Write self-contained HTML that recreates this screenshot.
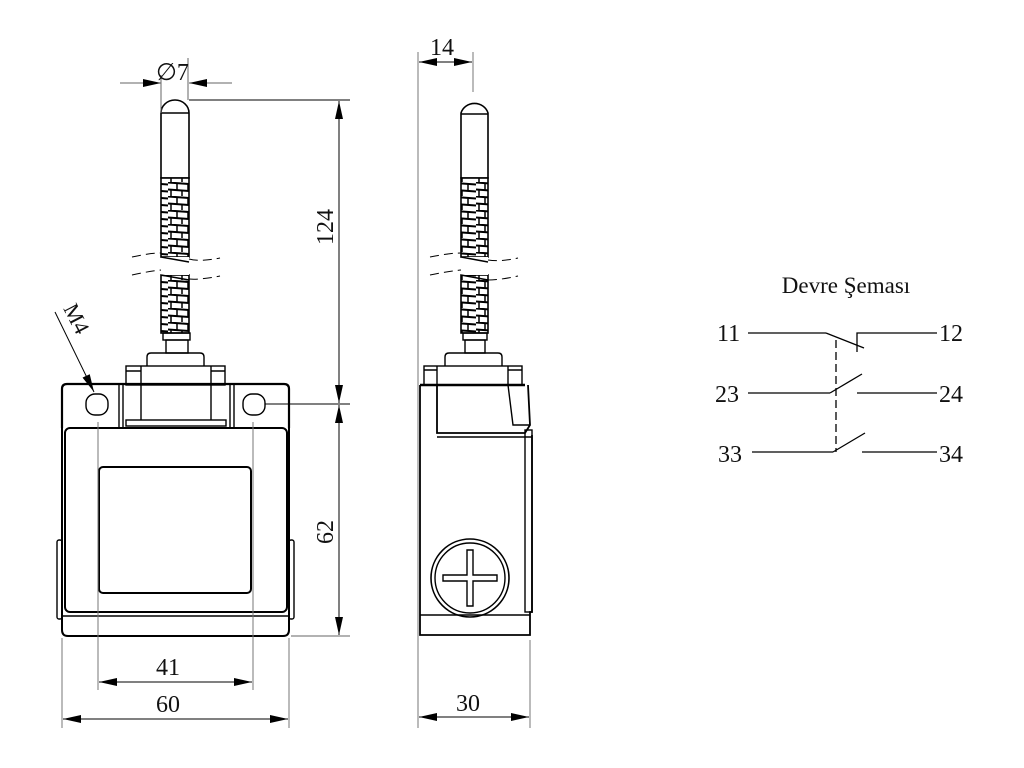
<!DOCTYPE html>
<html><head><meta charset="utf-8"><style>
html,body{margin:0;padding:0;background:#fff;}
svg{display:block;}
</style></head><body>
<svg width="1024" height="768" viewBox="0 0 1024 768" xmlns="http://www.w3.org/2000/svg" font-family="'Liberation Serif', serif">
<defs>
<pattern id="spr" x="0" y="0" width="28" height="14" patternUnits="userSpaceOnUse">
<rect width="28" height="14" fill="#fff"/>
<line x1="0" y1="0.5" x2="28" y2="2.5" stroke="#000" stroke-width="2"/>
<line x1="0" y1="7.5" x2="28" y2="9.5" stroke="#000" stroke-width="2"/>
<line x1="9" y1="1" x2="9" y2="8" stroke="#000" stroke-width="1.5"/>
<line x1="20" y1="1" x2="20" y2="8" stroke="#000" stroke-width="1.5"/>
<line x1="14" y1="8" x2="14" y2="14" stroke="#000" stroke-width="1.5"/>
<line x1="3" y1="8" x2="3" y2="14" stroke="#000" stroke-width="1.5"/>
</pattern>
<marker id="ar" viewBox="0 0 18 8" refX="18" refY="4" markerWidth="18" markerHeight="8" orient="auto" markerUnits="userSpaceOnUse">
<path d="M0,0 L18,4 L0,8 z" fill="#000"/>
</marker>
</defs>

<g fill="none" stroke="#000" stroke-width="1.4">
<path d="M161,113 A14,13 0 0 1 189,113 L189,178 L161,178 Z" stroke-width="1.6"/>
<line x1="161" y1="113" x2="189" y2="113"/>
<rect x="161" y="178" width="28" height="79" fill="url(#spr)" stroke-width="1.6"/>
<rect x="161" y="275" width="28" height="58" fill="url(#spr)" stroke-width="1.6"/>
<rect x="161" y="257" width="28" height="18" fill="#fff" stroke="none"/>
<line x1="161" y1="257" x2="189" y2="262"/>
<line x1="161" y1="275" x2="189" y2="280"/>
<path d="M132,257 Q150,253 161,253 M189,259 Q200,262 220,258 M132,275 Q150,271 161,270 M189,279 Q200,280 220,276" stroke-dasharray="9,5" stroke-width="1"/>
<rect x="163" y="333" width="27" height="7"/>
<rect x="166" y="340" width="22" height="13"/>
<path d="M147,366 L147,357 Q147,353 151,353 L200,353 Q204,353 204,357 L204,366"/>
<rect x="126" y="366" width="99" height="19"/>
<path d="M141,366 L141,420 M211,366 L211,420 M126,371 L141,371 M211,371 L225,371"/>
<path d="M62,428 L62,389 Q62,384 67,384 L284,384 Q289,384 289,389 L289,428" stroke-width="2.2"/>
<line x1="119" y1="385" x2="119" y2="428"/>
<line x1="123" y1="385" x2="123" y2="428"/>
<line x1="230" y1="385" x2="230" y2="428"/>
<line x1="234" y1="385" x2="234" y2="428"/>
<rect x="126" y="420" width="100" height="6"/>
<rect x="86" y="394" width="22" height="21" rx="9"/>
<rect x="243" y="394" width="22" height="21" rx="9"/>
<rect x="65" y="428" width="222" height="184" rx="5" stroke-width="2"/>
<rect x="99" y="467" width="152" height="126" rx="4" stroke-width="2"/>
<path d="M62,428 L62,630 Q62,636 68,636 L283,636 Q289,636 289,630 L289,428" stroke-width="2"/>
<line x1="63" y1="616" x2="288" y2="616"/>
<rect x="57" y="540" width="5" height="79" rx="2"/>
<rect x="289" y="540" width="5" height="79" rx="2"/>

<path d="M461,113 A14,13 0 0 1 488,113 L488,178 L461,178 Z" stroke-width="1.6"/>
<line x1="461" y1="114" x2="488" y2="114"/>
<rect x="461" y="178" width="27" height="79" fill="url(#spr)" stroke-width="1.6"/>
<rect x="461" y="275" width="27" height="58" fill="url(#spr)" stroke-width="1.6"/>
<rect x="461" y="257" width="27" height="18" fill="#fff" stroke="none"/>
<line x1="461" y1="257" x2="488" y2="262"/>
<line x1="461" y1="275" x2="488" y2="280"/>
<path d="M430,257 Q450,253 461,253 M488,260 Q500,262 518,258 M430,275 Q450,271 461,270 M488,280 Q500,280 518,276" stroke-dasharray="9,5" stroke-width="1"/>
<rect x="463" y="333" width="24" height="7"/>
<rect x="465" y="340" width="20" height="13"/>
<path d="M445,366 L445,357 Q445,353 449,353 L498,353 Q502,353 502,357 L502,366"/>
<rect x="424" y="366" width="98" height="19"/>
<path d="M437,366 L437,385 M508,366 L508,385 M424,370 L437,370 M508,370 L522,370"/>
<path d="M420,385 L420,635 L530,635 L530,612 L532,612 L532,435" stroke-width="1.8"/>
<line x1="420" y1="385" x2="525" y2="385" stroke-width="2.4"/>
<path d="M437,385 L437,433 L525,433 L530,425 L528,385" stroke-width="1.8"/>
<path d="M508,385 L513,425 L530,425" />
<line x1="437" y1="437" x2="532" y2="437"/>
<rect x="525" y="430" width="7" height="182"/>
<line x1="420" y1="615" x2="530" y2="615"/>
<circle cx="470" cy="578" r="39" stroke-width="1.6"/>
<circle cx="470" cy="578" r="35"/>
<path d="M467,550 L473,550 L473,575 L497,575 L497,581 L473,581 L473,606 L467,606 L467,581 L443,581 L443,575 L467,575 Z"/>
</g>

<g stroke="#000" stroke-width="1" fill="none">
<line x1="120" y1="83" x2="161" y2="83" marker-end="url(#ar)" stroke="#666"/>
<line x1="232" y1="83" x2="189" y2="83" marker-end="url(#ar)" stroke="#666"/>
<line x1="161" y1="75" x2="161" y2="113" stroke="#666"/>
<line x1="188" y1="58" x2="188" y2="100" stroke="#666"/>
<line x1="189" y1="100" x2="350" y2="100"/>
<line x1="339" y1="252" x2="339" y2="101" marker-end="url(#ar)"/>
<line x1="339" y1="252" x2="339" y2="403" marker-end="url(#ar)"/>
<line x1="265" y1="404" x2="350" y2="404"/>
<line x1="339" y1="520" x2="339" y2="405" marker-end="url(#ar)"/>
<line x1="339" y1="520" x2="339" y2="635" marker-end="url(#ar)"/>
<line x1="291" y1="636" x2="350" y2="636" stroke="#666"/>
<line x1="98" y1="422" x2="98" y2="690" stroke="#777"/>
<line x1="253" y1="422" x2="253" y2="690" stroke="#777"/>
<line x1="175" y1="682" x2="99" y2="682" marker-end="url(#ar)"/>
<line x1="175" y1="682" x2="252" y2="682" marker-end="url(#ar)"/>
<line x1="62" y1="638" x2="62" y2="728" stroke="#777"/>
<line x1="289" y1="638" x2="289" y2="728" stroke="#777"/>
<line x1="175" y1="719" x2="63" y2="719" marker-end="url(#ar)"/>
<line x1="175" y1="719" x2="288" y2="719" marker-end="url(#ar)"/>
<line x1="418" y1="52" x2="418" y2="728" stroke="#777"/>
<line x1="473" y1="52" x2="473" y2="92" stroke="#777"/>
<line x1="446" y1="62" x2="419" y2="62" marker-end="url(#ar)"/>
<line x1="446" y1="62" x2="472" y2="62" marker-end="url(#ar)"/>
<line x1="530" y1="640" x2="530" y2="728" stroke="#777"/>
<line x1="474" y1="717" x2="419" y2="717" marker-end="url(#ar)"/>
<line x1="474" y1="717" x2="529" y2="717" marker-end="url(#ar)"/>
<line x1="55" y1="312" x2="94" y2="392" marker-end="url(#ar)"/>
</g>
<g font-size="24" font-family="'Liberation Serif', serif" fill="#111">
<text x="156" y="80" font-size="24">∅7</text>
<text x="430" y="55">14</text>
<text x="156" y="675">41</text>
<text x="156" y="712">60</text>
<text x="456" y="711">30</text>
<text transform="translate(333,227) rotate(-90)" text-anchor="middle">124</text>
<text transform="translate(333,532) rotate(-90)" text-anchor="middle">62</text>
<text transform="translate(70,322) rotate(63)" text-anchor="middle" font-size="22">M4</text>
</g>

<g stroke="#000" stroke-width="1.3" fill="none">
<line x1="748" y1="333" x2="826" y2="333"/>
<line x1="826" y1="333" x2="864" y2="348"/>
<path d="M857,352 L857,333 L937,333"/>
<line x1="748" y1="393" x2="830" y2="393"/>
<line x1="830" y1="393" x2="862" y2="374"/>
<line x1="857" y1="393" x2="937" y2="393"/>
<line x1="752" y1="452" x2="833" y2="452"/>
<line x1="833" y1="452" x2="865" y2="433"/>
<line x1="862" y1="452" x2="937" y2="452"/>
<line x1="836" y1="340" x2="836" y2="452" stroke-dasharray="8,4"/>
</g>
<g font-size="24" font-family="'Liberation Serif', serif" fill="#111">
<text x="846" y="293" text-anchor="middle" font-size="23">Devre Şeması</text>
<text x="717" y="341">11</text>
<text x="939" y="341">12</text>
<text x="715" y="402">23</text>
<text x="939" y="402">24</text>
<text x="718" y="462">33</text>
<text x="939" y="462">34</text>
</g>
</svg>
</body></html>
